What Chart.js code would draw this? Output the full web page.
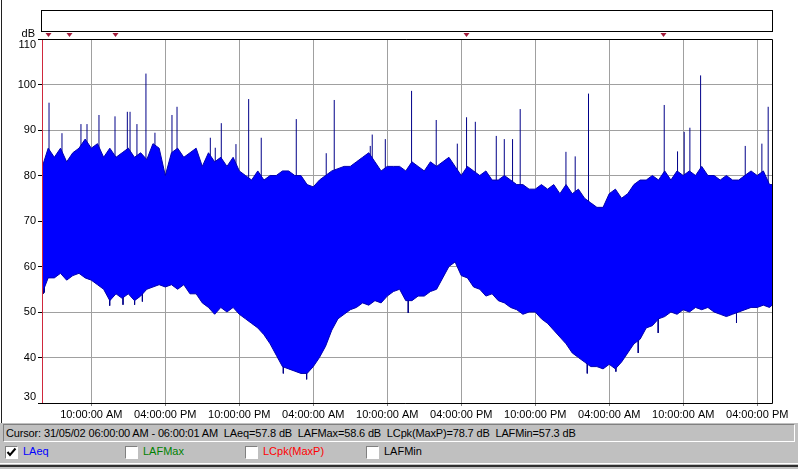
<!DOCTYPE html>
<html>
<head>
<meta charset="utf-8">
<script src="https://cdn.jsdelivr.net/npm/chart.js@4.4.1/dist/chart.umd.min.js"></script>
<style>
  html, body { margin:0; padding:0; background:#fff; width:798px; height:469px; overflow:hidden; font-family:"Liberation Sans", Arial, sans-serif; font-size:11px; }
  #wrap { position:absolute; left:0; top:0; width:798px; height:423px; }
  #lborder { position:absolute; left:1px; top:0; width:1px; height:423px; background:#202020; }
  #panel { position:absolute; left:0; top:423px; width:798px; height:46px; background:#c0c0c0; }
  #cursorbox { position:absolute; left:3px; top:1px; width:790px; height:16px; border-top:1px solid #808080; border-left:1px solid #808080; border-bottom:1px solid #fff; border-right:1px solid #fff; line-height:16px; white-space:pre; color:#000; }
  #cursorbox span { position:absolute; left:2px; top:0; letter-spacing:-0.15px; }
  .cb { position:absolute; top:23px; width:11px; height:11px; background:#fff; border-top:1px solid #808080; border-left:1px solid #808080; border-bottom:1px solid #fff; border-right:1px solid #fff; }
  .lbl { position:absolute; top:22px; line-height:13px; }
  #bot1 { position:absolute; left:0; top:40px; width:798px; height:1px; background:#fff; }
  #bot2 { position:absolute; left:0; top:42px; width:798px; height:2px; background:#303030; }
</style>
</head>
<body>
<div id="wrap"><canvas id="c"></canvas></div>
<div id="lborder"></div>
<div id="panel">
  <div id="cursorbox"><span id="cursorText"></span></div>
  <div class="cb" style="left:5px;"><svg width="11" height="11" viewBox="0 0 11 11"><path d="M1.5 5 L4 8 L9.5 1.5" stroke="#000" stroke-width="2" fill="none"/></svg></div>
  <div class="lbl" id="lg0" style="left:23px;"></div>
  <div class="cb" style="left:125px;"></div>
  <div class="lbl" id="lg1" style="left:143px;"></div>
  <div class="cb" style="left:245px;"></div>
  <div class="lbl" id="lg2" style="left:263px;"></div>
  <div class="cb" style="left:366px;"></div>
  <div class="lbl" id="lg3" style="left:384px;"></div>
  <div id="bot1"></div><div id="bot2"></div>
</div>
<script>
// ---------------- data ----------------
// time axis: hours elapsed since 31/05/02 06:00:00 AM
const hours = [0,0.5,1,1.5,2,2.5,3,3.5,4,4.5,5,5.5,6,6.5,7,7.5,8,8.5,9,9.5,10,10.5,11,11.5,12,12.5,
  13,13.5,14,14.5,15,15.5,16,16.5,17,17.5,18,18.5,19,19.5,20,20.5,21,21.5,22,22.5,23,23.5,24,24.5,25,25.5,26,26.5,27,27.5,28,28.5,29,
  29.5,30,30.5,31,31.5,32,32.5,33,33.5,34,34.5,35,35.5,36,36.5,37,37.5,38,38.5,39,39.5,40,40.5,41,41.5,42,42.5,43,43.5,44,44.5,45,
  45.5,46,46.5,47,47.5,48,48.5,49,49.5,50,50.5,51,51.5,52,52.5,53,53.5,54,54.5,55,55.5,56,56.5,57,57.5,58,58.5,59,59.2];
// LAeq band: upper and lower edge of the dense trace (dB)
const laeqUpper = [81.7,86,84,86,83,85,86,88,86,87,84,86,84,85,86,84,85,83.5,87,86,80,85,86,84,85,86,
  82,85,83,84,82,84,81,80,79,81,79,80,80,81,81,80,80,78,77.5,79,80,81,81.5,82,82,83,84,85,83,81,82,82,82,
  81,83,82,81,83,82,83,84,82,80,82,81,80,81,79,79,80,79,78,78,77,77,78,77,78,76,78,76,77,75,74,73,
  73,76,77,75,76,78,79,79,80,79,81,79,81,80,81,80,82,80,80,79,80,79,79,80,81,80,81,78,78];
const laeqLower = [54,57.5,57.5,58.5,57,58,58.5,57.5,57,56,55,52.5,54,53,54,52.5,53.5,55,55.5,56,55.5,56,55,56,54,54,
  52,51,49.5,51,50,51,49.5,48.5,47.5,46.5,45,43,40.5,38,37.5,37,36.5,36.5,38,40,42.5,46,48.5,49.5,50.5,51,52,51.5,52.5,52,53.5,54.5,55,
  52.5,52.5,53.5,53.5,54.5,55,57.5,60,61,58,57.5,55.5,55,53.5,54,52.5,52,51,50.5,49.5,50,50,48.5,47.5,46,44.5,43,41,40,39,38,38,
  37.5,38.5,37.5,39,41,43,44,46.5,47,48.5,49,50,49.5,50.5,50,51,50.5,51,50,49.5,49,49.5,50,50.5,51,51,51.5,51,51.5];
// isolated peaks above the band
const peakHours  = [0.57,1.62,3.16,3.65,4.62,5.92,6.92,7.14,7.70,8.43,9.16,10.54,10.95,13.65,14.05,14.54,15.73,16.76,17.78,20.62,23.05,23.70,26.62,26.78,27.84,29.97,31.97,33.68,34.43,35.14,36.84,37.49,38.16,38.78,42.49,43.24,44.32,50.46,51.54,52.08,52.54,53.41,57.03,58.38,58.89];
const peakValues = [96,89.3,91.3,91.3,93.3,93,94,94,91.3,102.4,89.4,93.3,95.1,88.3,86.1,91.5,86.9,96.8,88.3,92.4,84.9,96.6,86.5,89,88,98.6,92.2,87,92.8,91.8,88.7,88,88,94.6,85.2,84.2,98,95.5,85.3,89.6,90.5,102,86.5,87,95.1];
// isolated dips below the band
const dipHours  = [0.1,0.2,5.49,6.57,7.51,8.14,19.57,21.46,29.7,44.22,46.54,48.35,49.97,56.32];
const dipValues = [54,54.3,51.4,51.6,51.6,52.3,36.5,35.2,49.8,36.5,36.9,41,45.4,47.6];
// axis ticks
const xTickHours  = [4,10,16,22,28,34,40,46,52,58];
const xTickLabels = ["10:00:00 AM","04:00:00 PM","10:00:00 PM","04:00:00 AM","10:00:00 AM","04:00:00 PM","10:00:00 PM","04:00:00 AM","10:00:00 AM","04:00:00 PM"];
const yTickValues = [30,40,50,60,70,80,90,100,110];
const markerHours = [0.49,2.19,5.92,34.4,50.4];
const cursorHour = 0;
const cursorText = "Cursor: 31/05/02 06:00:00 AM - 06:00:01 AM  LAeq=57.8 dB  LAFMax=58.6 dB  LCpk(MaxP)=78.7 dB  LAFMin=57.3 dB";
const legendNames  = ["LAeq","LAFMax","LCpk(MaxP)","LAFMin"];
const legendColors = ["#0000ff","#008000","#ff0000","#000000"];

// ---------------- page text ----------------
document.getElementById('cursorText').textContent = cursorText;
legendNames.forEach((n,i)=>{ const el=document.getElementById('lg'+i); el.textContent=n; el.style.color=legendColors[i]; });

// ---------------- datasets ----------------
const FONT = '11px "Liberation Sans", Arial, sans-serif';
const lowerPts = hours.map((h,i)=>({x:h,y:laeqLower[i]}));
const upperPts = hours.map((h,i)=>({x:h,y:laeqUpper[i]}));
const spikeBase = 65;
const spikePts = [];
peakHours.forEach((h,i)=>{ spikePts.push({x:h,y:spikeBase},{x:h,y:peakValues[i]},{x:h,y:null}); });
dipHours.forEach((h,i)=>{ spikePts.push({x:h,y:spikeBase},{x:h,y:dipValues[i]},{x:h,y:null}); });

const overlay = {
  id:'overlay',
  beforeDraw(chart){
    const c=chart.ctx; c.save(); c.fillStyle='#fff'; c.fillRect(0,0,chart.width,chart.height); c.restore();
  },
  afterDraw(chart){
    const c=chart.ctx, a=chart.chartArea, xs=chart.scales.x, ys=chart.scales.y;
    c.save();
    c.fillStyle='#fff'; c.fillRect(41.5,10.5,731,21);
    c.strokeStyle='#000'; c.lineWidth=1; c.strokeRect(41.5,10.5,731,21);
    c.beginPath();
    c.moveTo(41, a.top+0.5); c.lineTo(a.right+0.5, a.top+0.5);
    c.lineTo(a.right+0.5, a.bottom+0.5); c.lineTo(38, a.bottom+0.5);
    c.stroke();
    const cx = Math.round(xs.getPixelForValue(cursorHour))+0.5;
    c.strokeStyle='#d0283c'; c.beginPath(); c.moveTo(cx,a.top+1); c.lineTo(cx,a.bottom); c.stroke();
    c.fillStyle='#a01838';
    markerHours.forEach(h=>{ const mx=Math.round(xs.getPixelForValue(h))+0.5; c.beginPath(); c.moveTo(mx-3,33); c.lineTo(mx+3,33); c.lineTo(mx,37); c.closePath(); c.fill(); });
    c.font=FONT; c.fillStyle='#000'; c.textAlign='right'; c.textBaseline='middle';
    yTickValues.forEach(v=>{ let py=ys.getPixelForValue(v); py=Math.min(Math.max(py,a.top+6),a.bottom-6); c.fillText(String(v),36,py); });
    c.textBaseline='alphabetic';
    c.fillText('dB',35,37);
    c.restore();
  }
};

new Chart(document.getElementById('c'), {
  type:'line',
  data:{ datasets:[
    { data:lowerPts, borderColor:'#0000b0', borderWidth:1, pointRadius:0, fill:false, tension:0 },
    { data:upperPts, borderColor:'#0000b0', borderWidth:1, pointRadius:0, fill:'-1', backgroundColor:'#0000ff', tension:0 },
    { data:spikePts, borderColor:'#000088', borderWidth:1, pointRadius:0, fill:false, spanGaps:false, tension:0 }
  ]},
  options:{
    responsive:true, maintainAspectRatio:false, animation:false,
    layout:{ padding:{ left:0, right:26, top:39, bottom:0 } },
    plugins:{ legend:{display:false}, tooltip:{enabled:false} },
    scales:{
      x:{ type:'linear', min:0, max:59.2,
          afterBuildTicks(s){ s.ticks = xTickHours.map(v=>({value:v})); },
          afterFit(s){ s.height = 20; },
          grid:{ color:'#a0a0a0', lineWidth:1, tickLength:3, tickColor:'#808080' },
          border:{ display:false },
          ticks:{ autoSkip:false, maxRotation:0, padding:2, color:'#000', font:{family:'"Liberation Sans", Arial, sans-serif', size:11},
                  callback(v,i){ return xTickLabels[i]; } } },
      y:{ min:30, max:110,
          afterBuildTicks(s){ s.ticks = yTickValues.map(v=>({value:v})); },
          afterFit(s){ s.width = 42; },
          grid:{ color:'#a0a0a0', lineWidth:1, tickLength:4, tickColor:'#000' },
          border:{ display:false },
          ticks:{ display:false } }
    }
  },
  plugins:[overlay]
});
</script>
</body>
</html>
